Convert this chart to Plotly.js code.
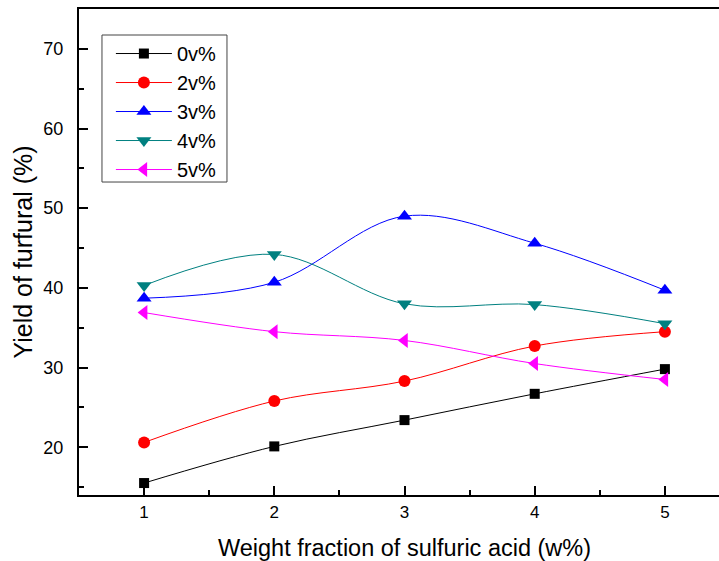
<!DOCTYPE html>
<html>
<head>
<meta charset="utf-8">
<script src="https://cdn.plot.ly/plotly-3.0.1.min.js"></script>
<style>
html,body{margin:0;padding:0;overflow:hidden;background:#fff;width:719px;height:561px;}
#chart{width:730px;height:561px;}
</style>
</head>
<body>
<div id="chart"></div>
<script>
const xValues = [1, 2, 3, 4, 5];
const seriesNames = ["0v%", "2v%", "3v%", "4v%", "5v%"];
const y0 = [15.5, 20.1, 23.4, 26.7, 29.8];
const y2 = [20.6, 25.8, 28.3, 32.7, 34.5];
const y3 = [38.7, 40.7, 49.0, 45.6, 39.7];
const y4 = [40.3, 44.2, 38.0, 37.9, 35.5];
const y5 = [36.9, 34.5, 33.4, 30.5, 28.5];
const xTicks = [1, 2, 3, 4, 5];
const yTicks = [20, 30, 40, 50, 60, 70];

const colors = ["#000000", "#ff0000", "#0000ff", "#008080", "#ff00ff"];
const symbols = ["square", "circle", "triangle-up", "triangle-down", "triangle-left"];
const sizes = [10, 12, 13, 13, 13];
const ys = [y0, y2, y3, y4, y5];

const traces = ys.map((y, i) => ({
  x: xValues,
  y: y,
  name: seriesNames[i],
  type: "scatter",
  mode: "lines+markers",
  line: {color: colors[i], width: 1, shape: "spline", smoothing: 1},
  marker: {color: colors[i], symbol: symbols[i], size: sizes[i]}
}));

const layout = {
  width: 730,
  height: 561,
  margin: {l: 79, r: 0, t: 9, b: 66},
  paper_bgcolor: "#ffffff",
  plot_bgcolor: "#ffffff",
  font: {family: "Liberation Sans, Arial, sans-serif", color: "#000"},
  showlegend: true,
  legend: {
    x: 0.049, y: 0.9485, xanchor: "left", yanchor: "top",
    borderwidth: 0, bgcolor: "rgba(0,0,0,0)",
    font: {size: 20, family: "Liberation Sans, Arial, sans-serif"},
    itemwidth: 56
  },
  shapes: [{
    type: "rect", xref: "paper", yref: "paper",
    x0: 0.0353, x1: 0.2273, y0: 0.644, y1: 0.9465,
    line: {color: "#444", width: 1}, fillcolor: "rgba(0,0,0,0)", layer: "below"
  }],
  xaxis: {
    range: [0.5, 5.5],
    tickvals: xTicks,
    ticks: "inside", ticklen: 9, tickwidth: 2, tickcolor: "#000",
    showline: true, linewidth: 2, linecolor: "#000", mirror: true,
    showgrid: false, zeroline: false,
    tickfont: {size: 17}, ticklabelstandoff: 1,
    minor: {dtick: 0.5, ticks: "inside", ticklen: 5, tickwidth: 2, tickcolor: "#000", showgrid: false},
    title: {text: "Weight fraction of sulfuric acid (w%)", font: {size: 23.5}, standoff: 23}
  },
  yaxis: {
    range: [14, 75],
    tickvals: yTicks,
    ticks: "inside", ticklen: 9, tickwidth: 2, tickcolor: "#000",
    showline: true, linewidth: 2, linecolor: "#000", mirror: false,
    showgrid: false, zeroline: false,
    tickfont: {size: 18}, ticklabelstandoff: 10,
    minor: {dtick: 5, ticks: "inside", ticklen: 5, tickwidth: 2, tickcolor: "#000", showgrid: false},
    title: {text: "Yield of furfural (%)", font: {size: 25}, standoff: 4}
  }
};

Plotly.newPlot("chart", traces, layout, {displayModeBar: false, staticPlot: true});
</script>
</body>
</html>
